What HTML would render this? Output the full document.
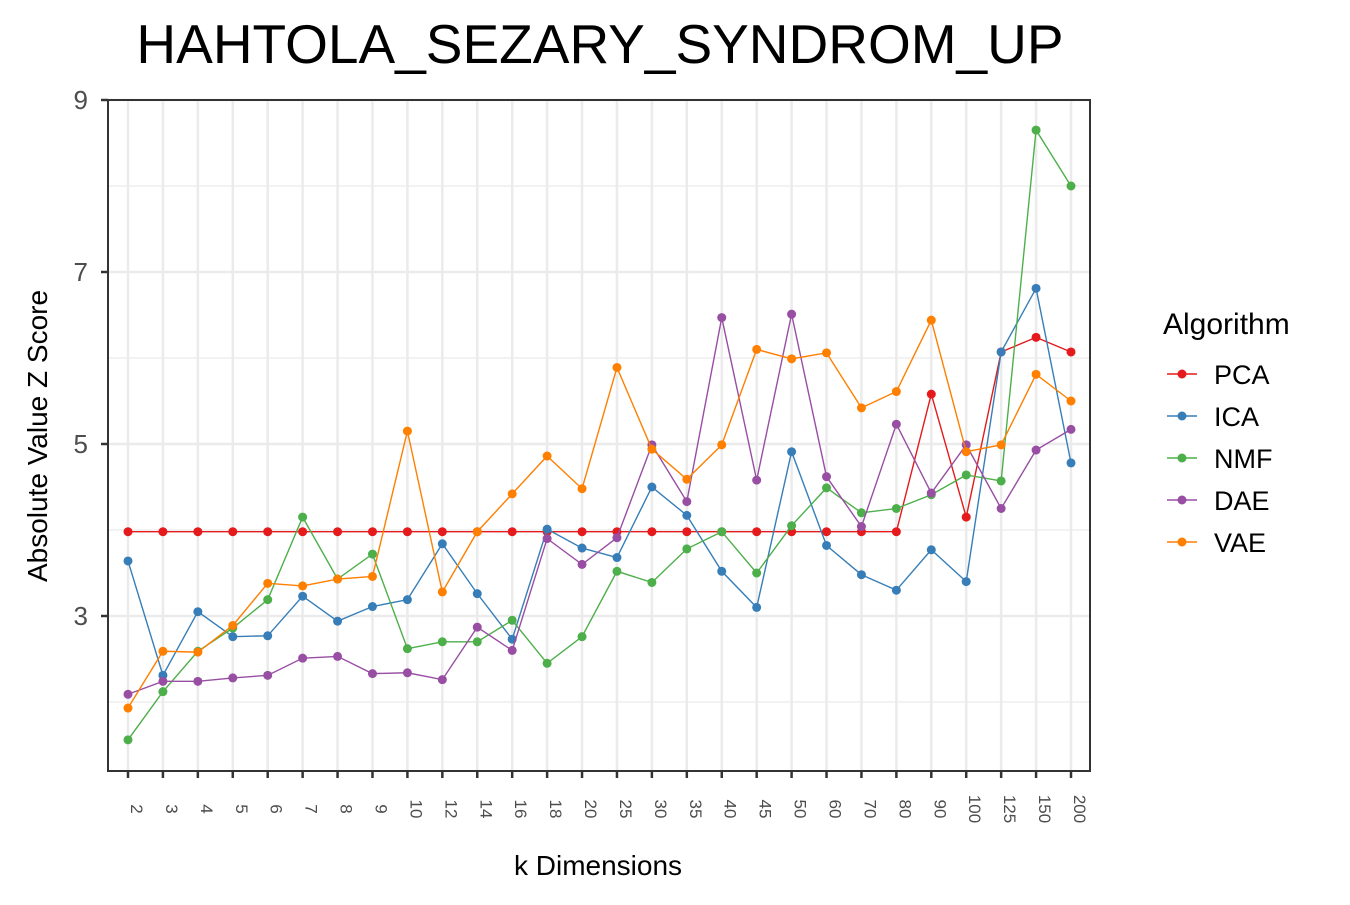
<!DOCTYPE html>
<html><head><meta charset="utf-8"><style>
body{margin:0;background:#fff;}
svg text{font-family:"Liberation Sans",Arial,sans-serif;}
</style></head><body>
<svg id="chart" width="1350" height="900" xmlns="http://www.w3.org/2000/svg">
<text x="600" y="63" font-size="55" text-anchor="middle" fill="#000">HAHTOLA_SEZARY_SYNDROM_UP</text>
<text transform="translate(47,436) rotate(-90)" font-size="28" text-anchor="middle">Absolute Value Z Score</text>
<text x="598" y="875" font-size="28" text-anchor="middle">k Dimensions</text>
<g id="grid"></g><g id="series"></g><g id="axes"></g>
<g id="legend">
<text x="1163" y="334" font-size="30">Algorithm</text>
</g>
</svg>
<script>
const categories=["2","3","4","5","6","7","8","9","10","12","14","16","18","20","25","30","35","40","45","50","60","70","80","90","100","125","150","200"];
const seriesNames=["PCA","ICA","NMF","DAE","VAE"];
const colors=["#e41a1c","#377eb8","#4daf4a","#984ea3","#ff7f00"];
const pca=[3.98,3.98,3.98,3.98,3.98,3.98,3.98,3.98,3.98,3.98,3.98,3.98,3.98,3.98,3.98,3.98,3.98,3.98,3.98,3.98,3.98,3.98,3.98,5.58,4.15,6.07,6.24,6.07];
const ica=[3.64,2.31,3.05,2.76,2.77,3.23,2.94,3.11,3.19,3.84,3.26,2.73,4.01,3.79,3.68,4.50,4.17,3.52,3.10,4.91,3.82,3.48,3.30,3.77,3.40,6.07,6.81,4.78];
const nmf=[1.56,2.12,2.59,2.86,3.19,4.15,3.43,3.72,2.62,2.70,2.70,2.95,2.45,2.76,3.52,3.39,3.78,3.98,3.50,4.05,4.49,4.20,4.25,4.41,4.64,4.57,8.65,8.00];
const dae=[2.09,2.24,2.24,2.28,2.31,2.51,2.53,2.33,2.34,2.26,2.87,2.60,3.90,3.60,3.91,4.99,4.33,6.47,4.58,6.51,4.62,4.04,5.23,4.43,4.99,4.25,4.93,5.17];
const vae=[1.93,2.59,2.58,2.89,3.38,3.35,3.43,3.46,5.15,3.28,3.98,4.42,4.86,4.48,5.89,4.94,4.59,4.99,6.10,5.99,6.06,5.42,5.61,6.44,4.91,4.99,5.81,5.50];
const yTicks=[3,5,7,9];
const yMinor=[2,4,6,8];
const allSeries=[pca,ica,nmf,dae,vae];

const NS="http://www.w3.org/2000/svg";
const L=108,R=1090,T=100,B=771;
const xScale=i=>128+i*(1071-128)/(categories.length-1);
const yScale=v=>T+(9-v)*(618-446)/2;
function mk(tag,attrs,parent){const e=document.createElementNS(NS,tag);for(const k in attrs)e.setAttribute(k,attrs[k]);parent.appendChild(e);return e;}
const grid=document.getElementById('grid'),ser=document.getElementById('series'),axes=document.getElementById('axes'),leg=document.getElementById('legend');
yMinor.forEach(v=>{const l=mk('line',{x1:L,x2:R,y1:yScale(v),y2:yScale(v),stroke:'#ebebeb','stroke-width':1.2},grid);

});
yTicks.forEach(v=>{const l=mk('line',{x1:L,x2:R,y1:yScale(v),y2:yScale(v),stroke:'#ebebeb','stroke-width':2.5},grid);

});
categories.forEach((c,i)=>{const l=mk('line',{x1:xScale(i),x2:xScale(i),y1:T,y2:B,stroke:'#ebebeb','stroke-width':2.5},grid);

});
allSeries.forEach((d,s)=>{
 const g=mk('g',{},ser);
 
 
 const p=mk('polyline',{points:d.map((v,i)=>xScale(i)+','+yScale(v)).join(' '),fill:'none',stroke:colors[s],'stroke-width':1.4},g);
 
 
 d.forEach((v,i)=>{const c=mk('circle',{cx:xScale(i),cy:yScale(v),r:4.5,fill:colors[s]},g);
 
 });
});
const frame=mk('rect',{x:L,y:T,width:R-L,height:B-T,fill:'none',stroke:'#333','stroke-width':2},axes);


yTicks.forEach(v=>{mk('line',{x1:L-7,x2:L,y1:yScale(v),y2:yScale(v),stroke:'#333','stroke-width':2.5},axes);
const t=mk('text',{x:L-20,y:yScale(v)+9,'font-size':26,'text-anchor':'end',fill:'#4d4d4d'},axes);t.textContent=v;

});
categories.forEach((c,i)=>{const x=xScale(i);mk('line',{x1:x,x2:x,y1:B,y2:B+7,stroke:'#333','stroke-width':2.5},axes);
const t=mk('text',{transform:`translate(${x+3},809) rotate(90)`,'font-size':17,'text-anchor':'middle',fill:'#4d4d4d'},axes);t.textContent=c;

});
seriesNames.forEach((n,s)=>{const y=374+s*42;
const g=mk('g',{},leg);


mk('line',{x1:1167,x2:1197,y1:y,y2:y,stroke:colors[s],'stroke-width':1.4},g);
mk('circle',{cx:1182,cy:y,r:4.5,fill:colors[s]},g);
const t=mk('text',{x:1214,y:y+10,'font-size':27},g);t.textContent=n;});
</script>
</body></html>
